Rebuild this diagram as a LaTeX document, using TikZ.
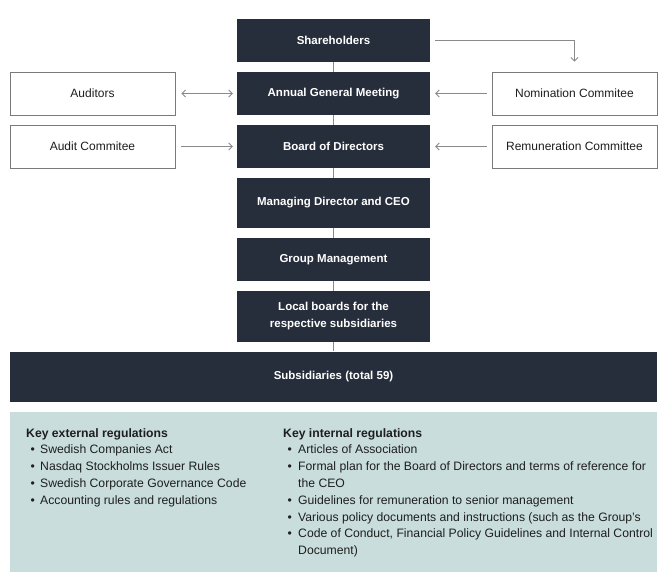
\documentclass[tikz,border=0pt]{standalone}
\usepackage{fontspec}
\setmainfont{Liberation Sans}
\usetikzlibrary{arrows.meta}
\definecolor{darkbox}{HTML}{272E3B}
\definecolor{panel}{HTML}{C9DDDD}
\definecolor{linegray}{HTML}{8A8A8A}
\definecolor{boxline}{HTML}{7A7A7A}
\definecolor{txt}{HTML}{1E1E1E}
\tikzset{
  darkbox/.style={fill=darkbox, draw=none, text=white, font=\fontsize{11.5}{14}\selectfont\bfseries,
    minimum width=193pt, minimum height=43pt, inner sep=0pt, align=center},
  whitebox/.style={fill=white, draw=boxline, line width=0.9pt, text=txt, font=\fontsize{12}{14}\selectfont,
    minimum width=165pt, minimum height=43pt, inner sep=0pt, align=center},
  conn/.style={draw=linegray, line width=0.9pt},
  arr/.style={conn, -{Straight Barb[length=3.5pt,width=7pt]}},
  darr/.style={conn, {Straight Barb[length=3.5pt,width=7pt]}-{Straight Barb[length=3.5pt,width=7pt]}},
  regtext/.style={anchor=base west, inner sep=0pt, text=txt, font=\fontsize{12.2}{14}\selectfont},
  reghead/.style={regtext, font=\fontsize{12.2}{14}\selectfont\bfseries},
}
\begin{document}
\begin{tikzpicture}[x=1pt,y=-1pt]
\useasboundingbox (0,0) rectangle (667,584);
% dark chain
\node[darkbox] (sh) at (333.5,40.5) {Shareholders};
\node[darkbox] (agm) at (333.5,93.5) {Annual General Meeting};
\node[darkbox] (bod) at (333.5,146.5) {Board of Directors};
\node[darkbox, minimum height=50pt] (ceo) at (333.5,203) {Managing Director and CEO};
\node[darkbox] (gm) at (333.5,259.5) {Group Management};
\node[darkbox, minimum height=51pt, font=\fontsize{11.5}{17}\selectfont\bfseries] (lb) at (333.5,316.5) {Local boards for the\\respective subsidiaries};
\node[darkbox, minimum width=647pt, minimum height=50pt] (sub) at (333.5,376.5) {Subsidiaries (total 59)};
% side boxes
\node[whitebox] (aud) at (92.5,93.5) {Auditors};
\node[whitebox] (ac) at (92.5,146.5) {Audit Commitee};
\node[whitebox] (nom) at (574.5,93.5) {Nomination Commitee};
\node[whitebox] (rem) at (574.5,146.5) {Remuneration Committee};
% vertical connectors
\draw[conn] (sh.south) -- (agm.north);
\draw[conn] (agm.south) -- (bod.north);
\draw[conn] (bod.south) -- (ceo.north);
\draw[conn] (ceo.south) -- (gm.north);
\draw[conn] (gm.south) -- (lb.north);
\draw[conn] (lb.south) -- (sub.north);
% horizontal arrows
\draw[darr, shorten <=6pt, shorten >=4pt] (aud.east) -- (agm.west);
\draw[arr, shorten <=6pt, shorten >=4pt] (ac.east) -- (bod.west);
\draw[arr, shorten <=5pt, shorten >=5pt] (nom.west) -- (agm.east);
\draw[arr, shorten <=5pt, shorten >=5pt] (rem.west) -- (bod.east);
\draw[arr, shorten <=5pt, shorten >=10pt] (sh.east) -| (nom.north);
% regulations panel
\node[fill=panel, draw=none, minimum width=647pt, minimum height=160pt, inner sep=0pt] (panelbox) at (333.5,492) {};
\node[reghead] (eh) at (26,437) {Key external regulations};
\foreach \t [count=\i] in {Swedish Companies Act, Nasdaq Stockholms Issuer Rules, Swedish Corporate Governance Code, Accounting rules and regulations}{
  \node[regtext] (eb\i) at (30.5,{437+16.8*\i}) {•};
  \node[regtext] (el\i) at (40,{437+16.8*\i}) {\t};
}
\node[reghead] (ih) at (283,437) {Key internal regulations};
\foreach \t/\b [count=\i] in {Articles of Association/1,
  Formal plan for the Board of Directors and terms of reference for/1,
  the CEO/0,
  Guidelines for remuneration to senior management/1,
  Various policy documents and instructions (such as the Group's/1,
  {Code of Conduct, Financial Policy Guidelines and Internal Control}/1,
  Document)/0}{
  \ifnum\b=1 \node[regtext] (ib\i) at (287.5,{437+16.8*\i}) {•};\fi
  \node[regtext] (il\i) at (298,{437+16.8*\i}) {\t};
}
\end{tikzpicture}
\end{document}
